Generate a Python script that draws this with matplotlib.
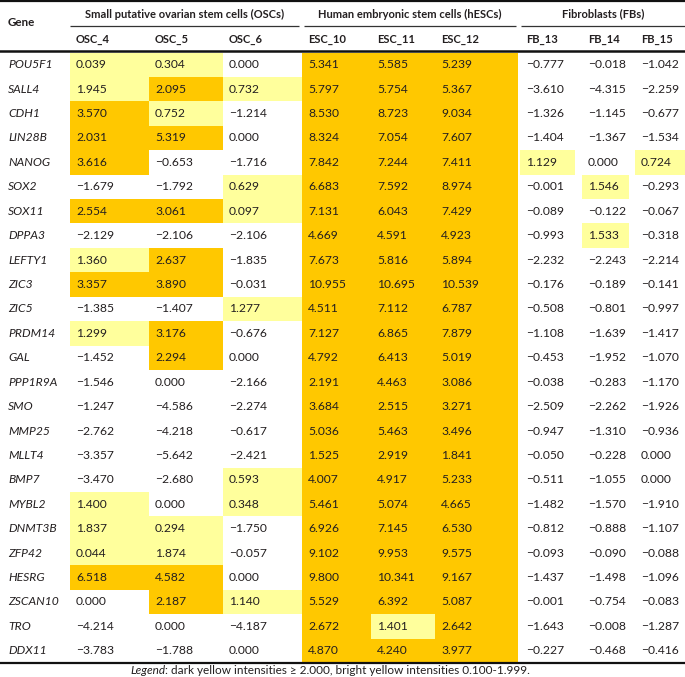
#!/usr/bin/env python3
"""Expression table of pluripotency genes in OSCs, hESCs and fibroblasts."""

import matplotlib
matplotlib.use("Agg")
import matplotlib.pyplot as plt
from matplotlib.patches import Rectangle

plt.rcParams['font.family'] = ['Lato', 'DejaVu Sans']

# --- data -------------------------------------------------------------
genes = ["POU5F1", "SALL4", "CDH1", "LIN28B", "NANOG", "SOX2", "SOX11",
         "DPPA3", "LEFTY1", "ZIC3", "ZIC5", "PRDM14", "GAL", "PPP1R9A",
         "SMO", "MMP25", "MLLT4", "BMP7", "MYBL2", "DNMT3B", "ZFP42",
         "HESRG", "ZSCAN10", "TRO", "DDX11"]

groups = ["Small putative ovarian stem cells (OSCs)",
          "Human embryonic stem cells (hESCs)",
          "Fibroblasts (FBs)"]
samples = ["OSC_4", "OSC_5", "OSC_6", "ESC_10", "ESC_11", "ESC_12",
           "FB_13", "FB_14", "FB_15"]

osc_4 = [0.039, 1.945, 3.570, 2.031, 3.616, -1.679, 2.554, -2.129, 1.360,
         3.357, -1.385, 1.299, -1.452, -1.546, -1.247, -2.762, -3.357,
         -3.470, 1.400, 1.837, 0.044, 6.518, 0.000, -4.214, -3.783]
osc_5 = [0.304, 2.095, 0.752, 5.319, -0.653, -1.792, 3.061, -2.106, 2.637,
         3.890, -1.407, 3.176, 2.294, 0.000, -4.586, -4.218, -5.642,
         -2.680, 0.000, 0.294, 1.874, 4.582, 2.187, 0.000, -1.788]
osc_6 = [0.000, 0.732, -1.214, 0.000, -1.716, 0.629, 0.097, -2.106, -1.835,
         -0.031, 1.277, -0.676, 0.000, -2.166, -2.274, -0.617, -2.421,
         0.593, 0.348, -1.750, -0.057, 0.000, 1.140, -4.187, 0.000]
esc_10 = [5.341, 5.797, 8.530, 8.324, 7.842, 6.683, 7.131, 4.669, 7.673,
          10.955, 4.511, 7.127, 4.792, 2.191, 3.684, 5.036, 1.525, 4.007,
          5.461, 6.926, 9.102, 9.800, 5.529, 2.672, 4.870]
esc_11 = [5.585, 5.754, 8.723, 7.054, 7.244, 7.592, 6.043, 4.591, 5.816,
          10.695, 7.112, 6.865, 6.413, 4.463, 2.515, 5.463, 2.919, 4.917,
          5.074, 7.145, 9.953, 10.341, 6.392, 1.401, 4.240]
esc_12 = [5.239, 5.367, 9.034, 7.607, 7.411, 8.974, 7.429, 4.923, 5.894,
          10.539, 6.787, 7.879, 5.019, 3.086, 3.271, 3.496, 1.841, 5.233,
          4.665, 6.530, 9.575, 9.167, 5.087, 2.642, 3.977]
fb_13 = [-0.777, -3.610, -1.326, -1.404, 1.129, -0.001, -0.089, -0.993,
         -2.232, -0.176, -0.508, -1.108, -0.453, -0.038, -2.509, -0.947,
         -0.050, -0.511, -1.482, -0.812, -0.093, -1.437, -0.001, -1.643,
         -0.227]
fb_14 = [-0.018, -4.315, -1.145, -1.367, 0.000, 1.546, -0.122, 1.533,
         -2.243, -0.189, -0.801, -1.639, -1.952, -0.283, -2.262, -1.310,
         -0.228, -1.055, -1.570, -0.888, -0.090, -1.498, -0.754, -0.008,
         -0.468]
fb_15 = [-1.042, -2.259, -0.677, -1.534, 0.724, -0.293, -0.067, -0.318,
         -2.214, -0.141, -0.997, -1.417, -1.070, -1.170, -1.926, -0.936,
         0.000, 0.000, -1.910, -1.107, -0.088, -1.096, -0.083, -1.287,
         -0.416]

columns = [osc_4, osc_5, osc_6, esc_10, esc_11, esc_12, fb_13, fb_14, fb_15]

# cells shaded differently from the threshold rule in the source table
shade_overrides = {("MLLT4", "ESC_10"): "dark", ("MLLT4", "ESC_12"): "dark"}

legend_note = ("dark yellow intensities \u2265 2.000, "
               "bright yellow intensities 0.100-1.999.")

# --- layout (pixels) --------------------------------------------------
W, H = 685, 677
DARK = "#FFC800"
LIGHT = "#FFFF9C"
TXT = "#231F20"
FS = 8.7        # body text
FS_HEAD = 8.0   # header text
FS_NOTE = 8.5   # legend note

col_left = [70, 149, 223, 302, 371, 435, 520, 582, 635]
col_right = [149, 223, 302, 371, 435, 518, 575, 629, 685]
group_span = [(70, 299), (304, 516), (521, 685)]
row_top = 52.5
row_h = 24.42


def shade_of(gene, sample, v):
    if (gene, sample) in shade_overrides:
        return shade_overrides[(gene, sample)]
    if v >= 2.0:
        return "dark"
    if v > 0.0:
        return "light"
    return None


def fmt(v):
    s = f"{abs(v):.3f}"
    return ("\u2212" + s) if v < 0 else s


fig = plt.figure(figsize=(W / 100, H / 100), dpi=100)
ax = fig.add_axes([0, 0, 1, 1])
ax.set_xlim(0, W)
ax.set_ylim(H, 0)
ax.axis("off")

# header
ax.text(8, 23, "Gene", fontsize=FS_HEAD + 0.4, fontweight="bold", color=TXT,
        ha="left", va="center")
for g, (x0, x1) in zip(groups, group_span):
    ax.text((x0 + x1) / 2, 14, g, fontsize=FS_HEAD, fontweight="bold",
            color=TXT, ha="center", va="center")
    ax.plot([x0, x1], [26, 26], color="#333333", lw=0.9,
            solid_capstyle="butt")
for j, s in enumerate(samples):
    ax.text(col_left[j] + 6, 39.5, s, fontsize=FS_HEAD, fontweight="bold",
            color=TXT, ha="left", va="center")

# body
for i, gene in enumerate(genes):
    y0 = row_top + i * row_h
    yc = y0 + row_h / 2
    ax.text(8, yc, gene, fontsize=FS, fontstyle="italic", color=TXT,
            ha="left", va="center")
    for j, s in enumerate(samples):
        v = columns[j][i]
        sh = shade_of(gene, s, v)
        if sh:
            ax.add_patch(Rectangle((col_left[j], y0),
                                   col_right[j] - col_left[j], row_h,
                                   facecolor=DARK if sh == "dark" else LIGHT,
                                   edgecolor="none", zorder=0))
        ax.text(col_left[j] + 6, yc, fmt(v), fontsize=FS, color=TXT,
                ha="left", va="center")

# rules
y_bottom = row_top + len(genes) * row_h
ax.plot([0, W], [1.2, 1.2], color="#111111", lw=1.6)
ax.plot([0, W], [51, 51], color="#111111", lw=1.8)
ax.plot([0, W], [y_bottom, y_bottom], color="#111111", lw=1.6)

# legend note: italic "Legend" followed by the plain explanation
lg = ax.text(130, 671, "Legend", fontsize=FS_NOTE, fontstyle="italic",
             color=TXT, ha="left", va="center")
fig.canvas.draw()
bb = lg.get_window_extent().transformed(ax.transData.inverted())
ax.text(bb.x1, 671, ": " + legend_note, fontsize=FS_NOTE, color=TXT,
        ha="left", va="center")

fig.savefig("out.png", dpi=100)
